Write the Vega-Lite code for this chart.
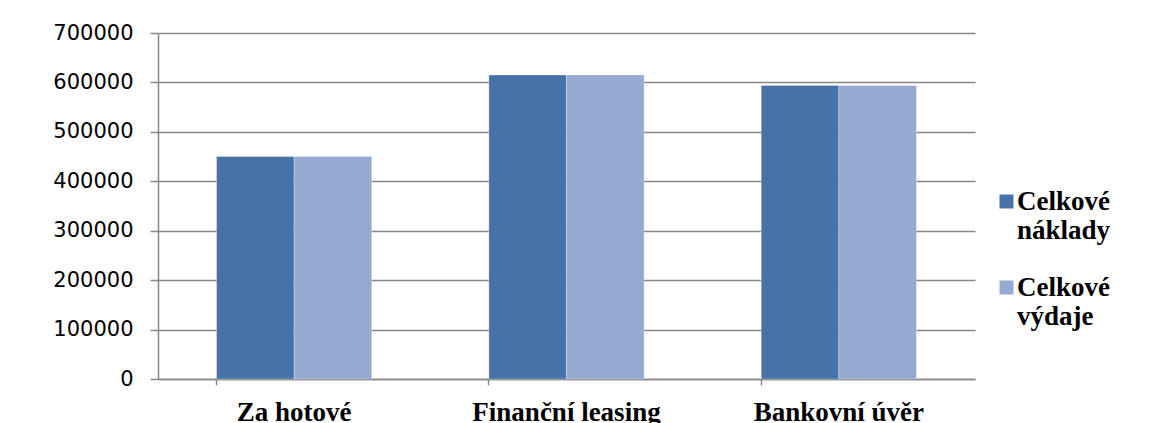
{
  "$schema": "https://vega.github.io/schema/vega-lite/v6.json",
  "width": 817,
  "height": 346,
  "autosize": {"type": "none"},
  "padding": {"left": 158, "top": 33, "right": 190, "bottom": 44},
  "background": "white",
  "data": {
    "values": [
      {"zpusob": "Za hotové", "ukazatel": "Celkové náklady", "castka": 450000},
      {"zpusob": "Za hotové", "ukazatel": "Celkové výdaje", "castka": 450000},
      {"zpusob": "Finanční leasing", "ukazatel": "Celkové náklady", "castka": 615000},
      {"zpusob": "Finanční leasing", "ukazatel": "Celkové výdaje", "castka": 615000},
      {"zpusob": "Bankovní úvěr", "ukazatel": "Celkové náklady", "castka": 594000},
      {"zpusob": "Bankovní úvěr", "ukazatel": "Celkové výdaje", "castka": 594000}
    ]
  },
  "mark": {"type": "bar", "stroke": "white", "strokeOpacity": 0.3, "strokeWidth": 1},
  "encoding": {
    "x": {
      "field": "zpusob",
      "type": "nominal",
      "sort": null,
      "scale": {"paddingInner": 0.43, "paddingOuter": 0.215},
      "axis": {
        "title": null,
        "labelAngle": 0,
        "labelFont": "Liberation Serif",
        "labelFontWeight": "bold",
        "labelFontSize": 27,
        "labelColor": "black",
        "labelPadding": 14,
        "labelLimit": 0,
        "tickSize": 6,
        "bandPosition": 0,
        "tickColor": "#878787",
        "tickWidth": 1.5,
        "domainColor": "#878787",
        "domainWidth": 1.5,
        "grid": false
      }
    },
    "xOffset": {
      "field": "ukazatel",
      "type": "nominal",
      "sort": null,
      "scale": {"paddingInner": 0, "paddingOuter": 0}
    },
    "y": {
      "field": "castka",
      "type": "quantitative",
      "scale": {"domain": [0, 700000], "nice": false},
      "axis": {
        "title": null,
        "values": [0, 100000, 200000, 300000, 400000, 500000, 600000, 700000],
        "format": "d",
        "labelFont": "DejaVu Sans",
        "labelFontSize": 21,
        "labelColor": "black",
        "labelPadding": 17,
        "tickSize": 8,
        "tickColor": "#878787",
        "tickWidth": 1.5,
        "domainColor": "#878787",
        "domainWidth": 1.5,
        "gridColor": "#878787",
        "gridWidth": 1.5
      }
    },
    "color": {
      "field": "ukazatel",
      "type": "nominal",
      "sort": null,
      "scale": {"range": ["#4672A8", "#95AAD1"]},
      "legend": {
        "title": null,
        "orient": "none",
        "legendX": 835,
        "legendY": 155,
        "padding": 0,
        "symbolType": "square",
        "symbolSize": 196,
        "symbolStrokeWidth": 0,
        "labelFont": "Liberation Serif",
        "labelFontWeight": "bold",
        "labelFontSize": 27,
        "labelColor": "black",
        "labelExpr": "split(datum.label, ' ')",
        "labelLineHeight": 32,
        "labelBaseline": "middle",
        "labelOffset": -3,
        "labelLimit": 0,
        "rowPadding": 29
      }
    }
  },
  "config": {
    "view": {"stroke": null}
  }
}
